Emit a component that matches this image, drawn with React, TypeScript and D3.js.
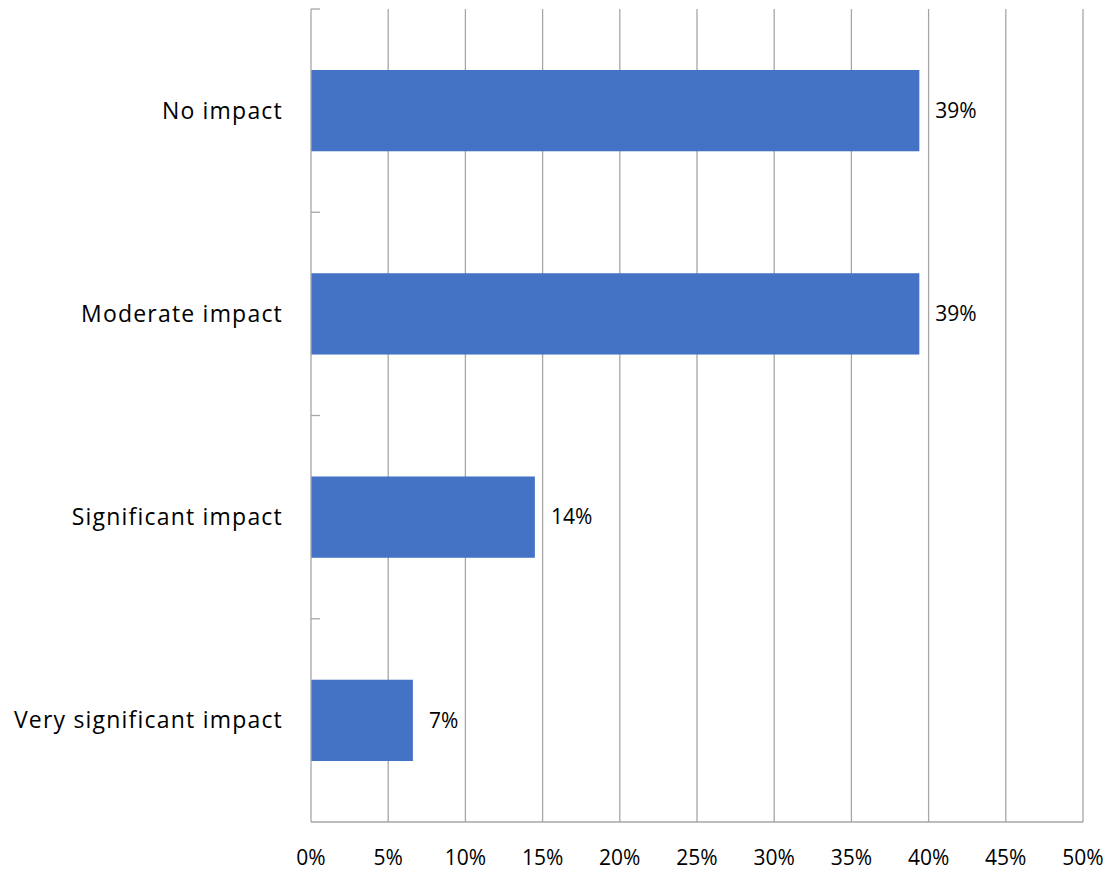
import React from "react";
import * as d3 from "d3";

const categories = ["No impact", "Moderate impact", "Significant impact", "Very significant impact"];
const values = [39.4, 39.4, 14.5, 6.6];
const labels = ["39%", "39%", "14%", "7%"];
const xTicks = [0, 5, 10, 15, 20, 25, 30, 35, 40, 45, 50];

const W = 1109;
const H = 870;
const left = 311;
const right = 1083;
const top = 9;
const bottom = 822;
const FONT = "'Open Sans', sans-serif";

export default function App() {
  const x = d3.scaleLinear().domain([0, 50]).range([left, right]);
  const y = d3.scaleBand<string>().domain(categories).range([top, bottom]).paddingInner(0.6).paddingOuter(0.3);
  const step = y.step();
  const boundaries = d3.range(categories.length + 1).map((i) => top + i * step);
  return (
    <svg width={W} height={H} style={{ position: "absolute", left: 0, top: 0 }} fontFamily={FONT}>
      <rect x={0} y={0} width={W} height={H} fill="#fff" />
      {xTicks.slice(1).map((t) => (
        <line key={t} x1={x(t)} x2={x(t)} y1={top} y2={bottom} stroke="#a6a6a6" strokeWidth={1.3} />
      ))}
      {categories.map((c, i) => (
        <rect key={c} x={x(0)} y={y(c)} width={x(values[i]) - x(0)} height={y.bandwidth()} fill="#4472C4" />
      ))}
      <line x1={left} x2={left} y1={top} y2={bottom} stroke="#a6a6a6" strokeWidth={1.3} />
      <line x1={left} x2={right} y1={bottom} y2={bottom} stroke="#a6a6a6" strokeWidth={1.3} />
      {boundaries.slice(0, -1).map((b, i) => (
        <line key={i} x1={left} x2={left + 9} y1={b} y2={b} stroke="#a6a6a6" strokeWidth={1.3} />
      ))}
      {categories.map((c, i) => (
        <text key={c} x={283} y={(y(c) as number) + y.bandwidth() / 2} dy="0.35em" textAnchor="end" fontSize={23} letterSpacing={1.2} fill="#000">
          {c}
        </text>
      ))}
      {categories.map((c, i) => (
        <text key={c} x={x(values[i]) + 16} y={(y(c) as number) + y.bandwidth() / 2} dy="0.35em" textAnchor="start" fontSize={21} fill="#000">
          {labels[i]}
        </text>
      ))}
      {xTicks.map((t) => (
        <text key={t} x={x(t)} y={865} textAnchor="middle" fontSize={21} fill="#000">
          {t + "%"}
        </text>
      ))}
    </svg>
  );
}
